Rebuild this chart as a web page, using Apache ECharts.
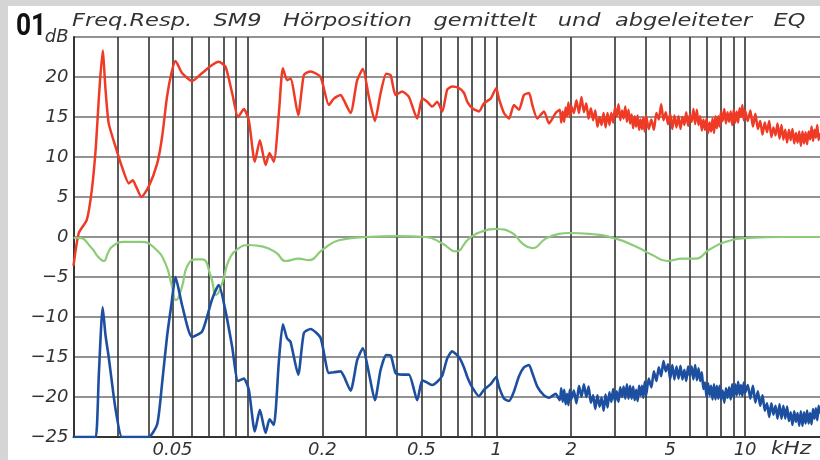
<!DOCTYPE html>
<html>
<head>
<meta charset="utf-8">
<script src="https://cdn.jsdelivr.net/npm/echarts@6/dist/echarts.min.js"></script>
<style>
html,body{margin:0;padding:0;background:#fff;}
#c{width:820px;height:460px;}
</style>
</head>
<body>
<div id="c"></div>
<script>
// ---- data (frequency in kHz, level in dB) ----
const freqLow = [0.02,0.021,0.0226,0.0237,0.0246,0.0253,0.0262,0.0269,0.0277,0.0295,0.0313,0.0334,0.0346,0.0357,0.0375,0.0401,0.0434,0.0454,0.0475,0.0495,0.0514,0.0546,0.0599,0.0658,0.0721,0.0767,0.0816,0.0868,0.0917,0.0967,0.1013,0.1071,0.1122,0.1183,0.1227,0.1277,0.1338,0.1388,0.1444,0.149,0.16,0.1686,0.1794,0.1967,0.2125,0.2225,0.2368,0.2441,0.2598,0.2761,0.2911,0.3077,0.3253,0.343,0.3612,0.3762,0.394,0.4188,0.4457,0.4812,0.504,0.528,0.553,0.579,0.607,0.635,0.665,0.708,0.742,0.765,0.801,0.852,0.892,0.95,1.0,1.025,1.074,1.125,1.178,1.234,1.292,1.354,1.396,1.462,1.555,1.629,1.733];
const freqHigh = [1.8,1.825,1.85,1.875,1.9,1.925,1.95,1.975,
  2.0,2.05,2.1,2.15,2.2,2.25,2.3,2.35,2.4,2.45,2.5,2.55,2.6,2.65,2.7,2.75,2.8,2.85,2.9,2.95,
  3.0,3.05,3.1,3.15,3.2,3.25,3.3,3.35,3.4,3.45,3.5,3.55,3.6,3.65,3.7,3.75,3.8,3.85,3.9,3.95,
  4.0,4.1,4.2,4.3,4.4,4.5,4.6,4.7,4.8,4.9,5.0,5.1,5.2,5.3,5.4,5.5,5.6,5.7,5.8,5.9,
  6.0,6.1,6.2,6.3,6.4,6.5,6.6,6.7,6.8,6.9,7.0,7.1,7.2,7.3,7.4,7.5,7.6,7.7,7.8,7.9,
  8.0,8.125,8.25,8.375,8.5,8.625,8.75,8.875,9.0,9.125,9.25,9.375,9.5,9.625,9.75,9.875,
  10,10.25,10.5,10.75,11,11.25,11.5,11.75,12,12.25,12.5,12.75,13,13.25,13.5,13.75,14,14.25,14.5,14.75,15,15.25,15.5,15.75,16,16.25,16.5,16.75,17,17.25,17.5,17.75,18,18.25,18.5,18.75,19,19.25,19.5,19.75,20];

const redLow = [-3.6,0.5,2.1,5.9,11.3,17.5,23.3,18.4,14.2,11.3,8.8,6.7,7.1,6.3,5.0,6.3,9.2,12.5,17.5,20.5,22.0,20.5,19.5,20.5,21.5,21.9,21.3,18.0,15.0,16.0,14.6,9.4,12.1,9.0,10.5,9.4,15.5,21.1,19.6,19.8,15.25,20.25,20.7,20.0,16.5,17.3,17.75,17.1,15.5,19.6,21.0,17.5,14.5,18.0,20.4,20.25,17.75,18.2,17.5,14.8,17.3,16.9,16.3,16.9,15.7,18.4,18.8,18.6,18.0,16.9,16.1,15.7,16.7,17.3,18.6,17.3,15.5,14.8,16.5,15.9,17.75,18.0,16.5,14.8,15.7,14.2,15.5];
const redHigh = [15.9,14.3,15.7,14.4,16.2,15.1,16.8,15.0,
  16.4,15.5,17.1,15.5,17.5,15.6,16.7,14.8,16.1,14.6,15.8,13.8,15.0,14.0,15.5,13.7,15.5,14.0,15.5,14.3,
  16.2,15.1,16.6,14.6,15.8,14.8,16.3,14.4,15.9,14.2,15.3,13.6,15.1,13.8,15.2,13.4,14.7,13.5,14.9,13.2,
  15.2,13.5,14.7,13.4,15.5,14.7,16.6,14.6,15.6,14.1,15.4,13.5,15.2,13.7,15.1,13.5,15.0,14.0,15.6,13.9,
  15.3,14.4,16.0,14.1,15.9,14.0,15.1,13.3,14.7,13.4,14.8,13.0,14.3,13.2,14.8,13.0,15.1,13.6,15.1,13.8,
  15.7,14.5,16.0,14.2,15.6,14.4,15.7,14.0,15.9,14.3,15.7,14.3,16.1,15.0,16.5,14.6,
  15.8,14.5,15.8,13.8,15.4,13.5,14.5,12.8,14.3,13.1,14.5,12.5,13.7,12.7,14.2,12.3,14.0,12.2,13.4,11.8,13.4,12.1,13.5,11.7,13.0,11.8,13.2,11.4,13.2,11.7,13.1,11.6,13.2,12.2,13.8,12.0,13.4,12.4,14.0,12.1,13.0];

const blueLow = [-25,-25,-25,-25,-25,-17.0,-8.8,-12.3,-15.0,-21.5,-25,-25,-25,-25,-25,-25,-23.4,-18.3,-12.5,-8.4,-5.0,-8.5,-12.5,-11.8,-7.8,-6.0,-9.2,-13.7,-18.0,-17.7,-19.1,-24.3,-21.6,-24.5,-22.8,-23.5,-15.5,-10.9,-12.7,-13.1,-17.2,-12.0,-11.5,-12.6,-17.0,-16.9,-16.8,-17.4,-19.2,-15.4,-13.9,-17.0,-20.4,-16.6,-14.75,-14.8,-17.0,-17.2,-17.2,-20.4,-17.9,-18.2,-18.5,-18.1,-17.3,-15.2,-14.3,-15.0,-16.3,-17.5,-18.8,-19.9,-19.1,-18.4,-17.5,-18.7,-20.2,-20.5,-19.3,-17.4,-16.3,-16.0,-17.0,-18.7,-19.8,-20.1,-19.6];
const blueHigh = [-20.4,-18.9,-20.6,-19.1,-20.9,-19.6,-21.0,-19.1,
  -20.3,-19.2,-20.8,-18.6,-20.0,-18.4,-20.0,-18.7,-20.7,-19.8,-21.5,-19.8,-21.2,-20.1,-21.7,-19.7,-21.3,-19.4,-20.6,-19.0,
  -20.6,-19.3,-20.6,-18.8,-20.0,-18.7,-20.2,-18.4,-20.2,-18.6,-20.2,-18.7,-20.4,-19.1,-20.5,-18.6,-19.8,-18.6,-20.1,-18.1,
  -19.8,-17.7,-18.8,-16.8,-18.0,-16.3,-17.4,-15.5,-16.8,-15.9,-17.8,-16.0,-17.8,-16.2,-17.7,-16.1,-17.8,-16.6,-18.0,-16.2,
  -17.4,-16.2,-17.8,-16.0,-17.9,-16.4,-18.0,-16.9,-19.0,-18.2,-20.0,-18.3,-19.8,-18.6,-20.3,-18.4,-20.3,-18.6,-20.2,-18.6,
  -20.3,-19.2,-20.7,-18.9,-20.1,-18.8,-20.3,-18.4,-20.1,-18.4,-19.8,-18.1,-19.7,-18.5,-19.9,-18.2,
  -19.5,-18.5,-20.2,-18.6,-20.7,-19.3,-21.1,-19.8,-21.7,-20.8,-22.5,-20.8,-22.2,-21.1,-22.7,-20.9,-22.7,-21.1,-22.7,-21.2,-23.0,-21.9,-23.5,-21.8,-23.1,-22.0,-23.6,-21.8,-23.6,-21.9,-23.3,-21.7,-23.3,-22.0,-23.4,-21.5,-22.7,-21.4,-22.9,-21.1,-22.1];

const eqFreq = [0.02,0.021,0.0237,0.025,0.0265,0.0275,0.0286,0.0318,0.0375,0.0424,0.0468,0.0498,0.0516,0.0546,0.0572,0.0618,0.0658,0.0714,0.0748,0.0795,0.0842,0.0924,0.1013,0.1156,0.1309,0.1423,0.161,0.1766,0.2,0.233,0.3,0.406,0.52,0.607,0.687,0.777,0.879,1.0,1.16,1.272,1.396,1.58,1.787,1.96,2.36,3.02,3.64,4.24,4.87,5.6,6.34,7.17,8.36,10.4,14.1,20];
const eqDb = [-0.1,-0.1,-1.4,-2.4,-3.0,-2.0,-1.2,-0.6,-0.6,-1.4,-3.3,-6.2,-7.9,-6.2,-3.7,-2.8,-2.8,-5.0,-7.25,-5.6,-2.9,-1.4,-1.0,-1.2,-2.0,-3.0,-2.7,-2.9,-1.6,-0.4,0.0,0.1,0.0,-0.8,-1.8,-0.2,0.7,1.0,0.5,-0.8,-1.4,-0.2,0.4,0.5,0.4,-0.2,-1.2,-2.25,-3.0,-2.7,-2.7,-1.6,-0.6,-0.1,0,0];

const gridFreqs = [0.03,0.04,0.05,0.06,0.07,0.08,0.09,0.1,0.2,0.3,0.4,0.5,0.6,0.7,0.8,0.9,1,2,3,4,5,6,7,8,9,10];
const xTickLabels = [0.05,0.2,0.5,1,2,5,10];
const yTicks = [-25,-20,-15,-10,-5,0,5,10,15,20,25];

const titleText = 'Freq.Resp.   SM9   Hörposition   gemittelt   und  abgeleiteter   EQ';

// ---- build ----
const freqAll = freqLow.concat(freqHigh);
const redAll = redLow.concat(redHigh);
const blueAll = blueLow.concat(blueHigh);
const redData = freqAll.map((f, i) => [f, redAll[i]]);
const blueData = freqAll.map((f, i) => [f, blueAll[i]]);
const eqData = eqFreq.map((f, i) => [f, eqDb[i]]);

const labelFont = 'DejaVu Sans';
const chart = echarts.init(document.getElementById('c'), null, {renderer: 'canvas'});
chart.setOption({
  animation: false,
  backgroundColor: '#ffffff',
  grid: {left: 73.5, right: -1, top: 37, bottom: 23, containLabel: false},
  xAxis: {
    type: 'log', logBase: 10, min: 0.02, max: 20,
    axisLine: {show: true, onZero: false, lineStyle: {color: '#333', width: 2}},
    axisTick: {show: false, customValues: gridFreqs},
    axisLabel: {
      customValues: xTickLabels,
      formatter: v => String(v),
      color: '#333', fontFamily: labelFont, fontStyle: 'italic', fontSize: 18, margin: 4
    },
    splitLine: {show: true, lineStyle: {color: '#333', width: 1.6}},
    minorSplitLine: {show: false}
  },
  yAxis: {
    type: 'value', min: yTicks[0], max: yTicks[yTicks.length - 1], interval: 5,
    axisLine: {show: true, lineStyle: {color: '#333', width: 2}},
    axisTick: {show: false},
    axisLabel: {
      formatter: v => v === 25 ? 'dB' : (v < 0 ? '\u2212' + (-v) : String(v)),
      color: '#333', fontFamily: labelFont, fontStyle: 'italic', fontSize: 18, margin: 5
    },
    splitLine: {show: true, lineStyle: {color: '#6e6e6e', width: 1.6}}
  },
  graphic: [
    {type: 'rect', shape: {x: 0, y: 0, width: 820, height: 6}, style: {fill: '#d5d5d5'}, silent: true},
    {type: 'rect', shape: {x: 0, y: 0, width: 8, height: 460}, style: {fill: '#d5d5d5'}, silent: true},
    {type: 'text', x: 16, y: 12, scaleX: 0.85, style: {text: '01', font: 'bold 31px "Roboto", sans-serif', fill: '#111', verticalAlign: 'top'}},
    {type: 'text', x: 72, y: 12, scaleX: 1.25, style: {text: titleText, font: 'italic 18px "DejaVu Sans"', fill: '#333', verticalAlign: 'top'}},
    {type: 'text', x: 771, y: 449, scaleX: 1.2, style: {text: 'kHz', font: 'italic 18px "DejaVu Sans"', fill: '#333', verticalAlign: 'middle'}}
  ],
  series: [
    {name: 'Frequenzgang', type: 'line', data: redData, showSymbol: false, smooth: 0.2, z: 3,
     lineStyle: {color: '#ef3a26', width: 2.5}},
    {name: 'EQ', type: 'line', data: eqData, showSymbol: false, smooth: 0.5, z: 4,
     lineStyle: {color: '#8ccc78', width: 2.2}},
    {name: 'mit EQ', type: 'line', data: blueData, showSymbol: false, smooth: 0.2, z: 5,
     lineStyle: {color: '#1d4fa0', width: 2.6}}
  ]
});
</script>
</body>
</html>
